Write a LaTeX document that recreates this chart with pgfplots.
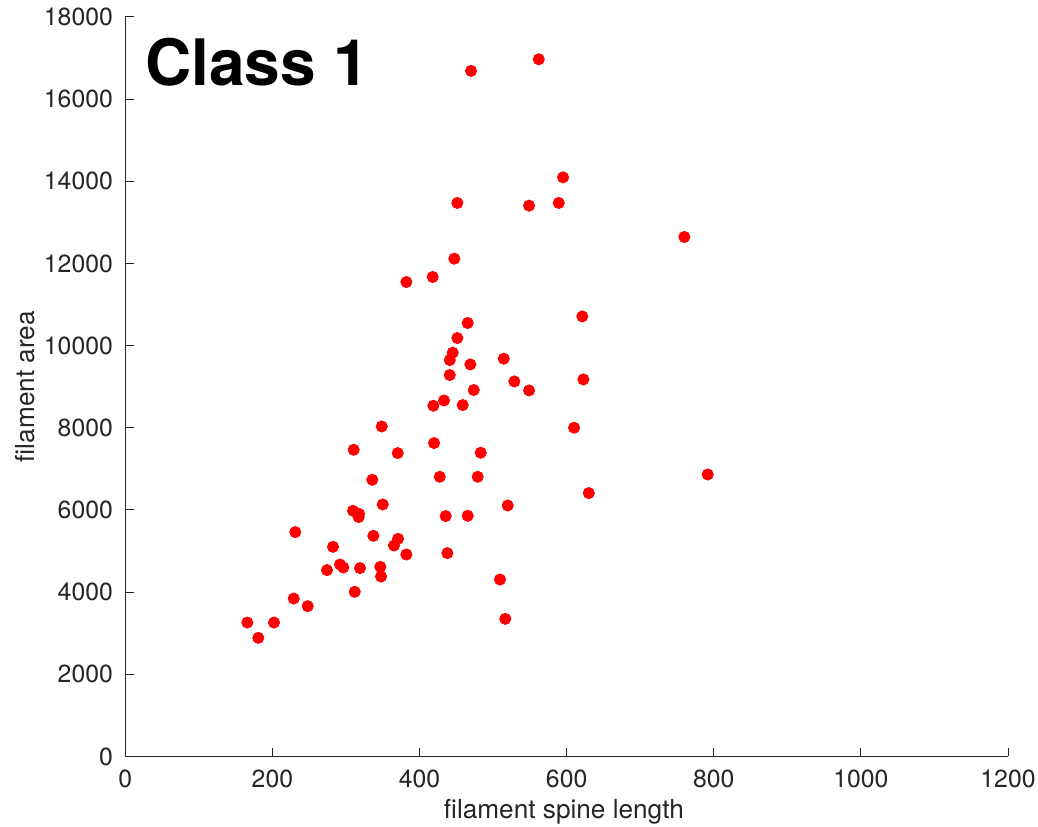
\documentclass[border=0pt]{standalone}
\usepackage{fontspec}
\setmainfont{TeX Gyre Heros}
\usepackage{pgfplots}
\pgfplotsset{compat=1.18}
\definecolor{axgray}{rgb}{0.15,0.15,0.15}
\pgfplotstableread{
x y
165.9 3259
180.8 2886
202.2 3259
229.0 3843
248.0 3658
231.1 5460
282.4 5102
274.2 4535
291.9 4671
296.4 4598
319.1 4584
311.9 4006
337.2 5370
365.3 5134
370.8 5297
382.1 4915
346.7 4615
347.7 4379
310.5 7465
348.6 8032
370.4 7384
335.8 6734
350.0 6133
309.6 5979
317.7 5906
317.3 5826
419.7 7628
418.8 8536
433.3 8665
458.7 8553
483.2 7392
427.5 6807
479.1 6807
435.6 5850
465.5 5857
437.8 4949
595.1 14096
451.4 13473
548.9 13407
589.3 13473
760.0 12645
447.3 12116
417.9 11671
382.1 11549
465.5 10550
451.4 10185
621.3 10711
445.1 9827
441.1 9649
469.1 9542
441.1 9284
514.5 9681
528.9 9128
548.9 8909
622.7 9177
473.7 8919
610.1 8001
630.1 6410
519.9 6108
791.8 6863
509.4 4306
516.6 3349
470.0 16688
562.1 16970
}\pts
\begin{document}
\begin{tikzpicture}
\begin{axis}[name=ax, scale only axis, width=441.4pt, height=369.75pt,
 xmin=0, xmax=1200, ymin=0, ymax=18000,
 xtick={0,200,...,1200}, ytick={0,2000,...,18000},
 axis x line=bottom, axis y line=left,
 axis line style={-, axgray, line width=0.5pt},
 tick style={axgray, line width=0.5pt}, tick align=inside, major tick length=4.4pt,
 tick label style={font=\fontsize{12.4}{14}\selectfont, text=axgray, inner sep=0pt},
 xticklabel style={yshift=-6.5pt},
 yticklabel style={xshift=-6pt},
 /pgf/number format/assume math mode=true, /pgf/number format/1000 sep={},
 scaled ticks=false,
 xlabel={filament spine length}, ylabel={filament area},
 label style={font=\fontsize{13.1}{15}\selectfont, text=axgray},
 xlabel style={at={(axis description cs:0.497,-0.075)}, anchor=center},
 ylabel style={at={(axis description cs:-0.113,0.5)}, anchor=center},
 clip=false]
\addplot[only marks, mark=*, mark size=2.8pt, mark options={fill=red, draw=red}] table[x=x,y=y] {\pts};
\node[anchor=base west, font=\fontsize{32}{36}\selectfont\bfseries, inner sep=0pt] at (rel axis cs:0.0223,0.908) {Class 1};
\end{axis}
\pgfresetboundingbox
\path[use as bounding box] ([xshift=-62.65pt,yshift=-35.25pt]ax.south west) rectangle ([xshift=15pt,yshift=8.5pt]ax.north east);
\end{tikzpicture}
\end{document}
